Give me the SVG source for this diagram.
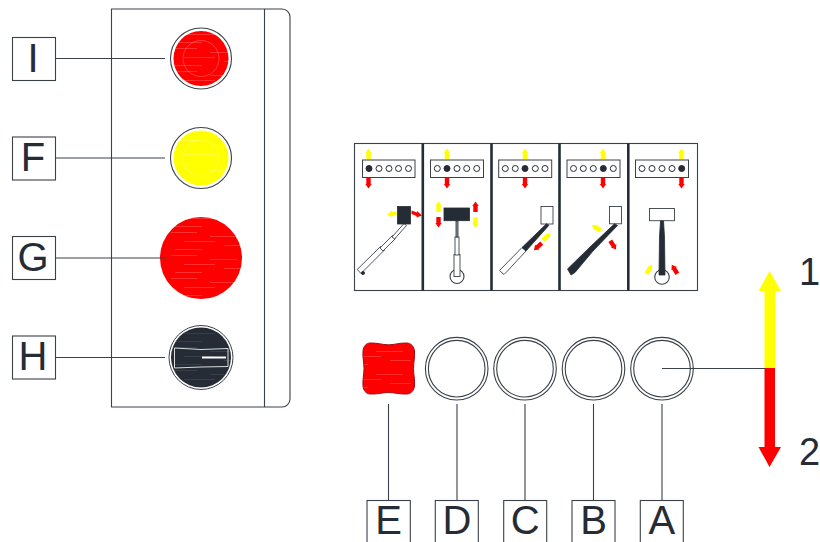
<svg xmlns="http://www.w3.org/2000/svg" width="820" height="542" viewBox="0 0 820 542">
<style>
.ln{fill:none;stroke:#3a4149;stroke-width:1.1}
.box{fill:#fff;stroke:#3a4149;stroke-width:1.1}
.lbl{font-family:"Liberation Sans",Arial,sans-serif;font-size:40px;fill:#252c35;text-anchor:middle}
.num{font-family:"Liberation Sans",Arial,sans-serif;font-size:38px;fill:#252c35}
.ring{fill:#fff;stroke:#3a4149;stroke-width:1.1}
.div{stroke:#252c35;stroke-width:2.6;fill:none}
.sel{fill:#fff;stroke:#3a4149;stroke-width:1}
.dot{fill:#fff;stroke:#252c35;stroke-width:1}
.on{fill:#252c35;stroke:#252c35;stroke-width:1}
.blk{fill:#252c35;stroke:#252c35;stroke-width:.8}
.wht{fill:#fff;stroke:#3a4149;stroke-width:.9}
.yt{fill:#ffff00}
.rt{fill:#ff0000}
</style>
<defs>
<pattern id="hr" width="83" height="23" patternUnits="userSpaceOnUse">
<rect width="83" height="23" fill="#ff0000"/>
<path d="M5 2.5H31M44 6.5H71M18 11.5H49M58 15.5H79M9 19.5H36" stroke="#ffa0a0" stroke-width=".3"/>
</pattern>
<pattern id="hy" width="83" height="23" patternUnits="userSpaceOnUse">
<rect width="83" height="23" fill="#ffff00"/>
<path d="M5 2.5H31M44 9.5H71M18 16.5H49" stroke="#ffffc0" stroke-width=".3"/>
</pattern>
<pattern id="hk" width="83" height="23" patternUnits="userSpaceOnUse">
<rect width="83" height="23" fill="#252c35"/>
<path d="M5 2.5H31M44 6.5H71M18 11.5H49M58 15.5H79M9 19.5H36" stroke="#5a6068" stroke-width=".35"/>
</pattern>
<path id="up" class="yt" d="M0 -5.5L3.2 -1H2.2V5H-2.2V-1H-3.2Z"/>
<path id="dn" class="rt" d="M0 5.5L3.2 1H2.2V-5H-2.2V1H-3.2Z"/>
<path id="upr" class="rt" d="M0 -5.5L3.2 -1H2.2V5H-2.2V-1H-3.2Z"/>
<path id="dny" class="yt" d="M0 5.5L3.2 1H2.2V-5H-2.2V1H-3.2Z"/>
</defs>

<g id="panel">
<path class="ln" d="M111.5 9H282a8 8 0 0 1 8 8V399a8 8 0 0 1-8 8H111.5Z"/>
<path class="ln" d="M264.5 9V407"/>
</g>

<g id="node-I">
<rect class="box" x="12.5" y="37.5" width="43" height="43"/>
<text class="lbl" x="33" y="71.5">I</text>
<circle class="ring" cx="201" cy="58.5" r="30.5"/>
<circle cx="201" cy="58.5" r="27.5" fill="url(#hr)"/>
<circle cx="201" cy="58.5" r="18" fill="none" stroke="#fff" stroke-width=".4" stroke-opacity=".6"/>
</g>
<g id="node-F">
<rect class="box" x="12.5" y="137" width="43" height="43"/>
<text class="lbl" x="33" y="171">F</text>
<circle class="ring" cx="201" cy="158" r="30.5"/>
<circle cx="201" cy="158" r="27.5" fill="url(#hy)"/>
<circle cx="201" cy="158" r="18" fill="none" stroke="#fff" stroke-width=".4" stroke-opacity=".6"/>
</g>
<g id="node-G">
<rect class="box" x="12.5" y="236.5" width="43" height="43"/>
<text class="lbl" x="33" y="270.5">G</text>
<circle cx="201" cy="258" r="41" fill="url(#hr)"/>
</g>
<g id="node-H">
<rect class="box" x="12.5" y="336" width="43" height="43"/>
<text class="lbl" x="33" y="370">H</text>
<circle cx="201" cy="357.5" r="32" fill="#fff" stroke="#3a4149" stroke-width="1"/>
<circle cx="201" cy="357.5" r="30" fill="url(#hk)"/>
<path d="M174.5 348L201 349.5L228 348.5V366.5L201 367L174.5 368Z" fill="none" stroke="#d8dadc" stroke-width="1"/>
<path d="M202 357.5H226" stroke="#fff" stroke-width="2"/>
</g>

<g id="selector-panel">
<rect x="354.5" y="143.5" width="343" height="147" fill="#fff" stroke="#3a4149" stroke-width="1.1"/>
<path class="div" d="M422.8 143.5V290.5M491.5 143.5V290.5M559.5 143.5V290.5M628.3 143.5V290.5"/>

<g id="pos-1">
<rect class="sel" x="362.5" y="160" width="52.5" height="17.5"/>
<circle class="on" cx="369" cy="168.5" r="3"/><circle class="dot" cx="379" cy="168.5" r="3"/><circle class="dot" cx="389" cy="168.5" r="3"/><circle class="dot" cx="398.5" cy="168.5" r="3"/><circle class="dot" cx="408.5" cy="168.5" r="3"/>
<use href="#up" x="368.5" y="154"/><use href="#dn" x="368.5" y="183"/>
<path class="wht" d="M357.2 269.5L380.5 246.5L384.5 250L361 273.5Z"/>
<path class="wht" d="M380 248L392.5 235.5L395.5 238.5L383 251Z"/>
<path class="wht" d="M392 237L404 223.5L406.5 225.5L394.5 239Z"/>
<circle class="blk" cx="363" cy="273" r="1.6"/>
<rect class="blk" x="397.5" y="206.5" width="13" height="17.5"/>
<path class="yt" d="M387 215L392 210.5V212L396.5 211.5V215.5L392 216V217Z"/>
<path class="rt" d="M422 215.5L416.5 217.5V216L411.5 214V210.5L417 212.5V211Z"/>
</g>

<g id="pos-2">
<rect class="sel" x="430.5" y="160" width="53" height="17.5"/>
<circle class="dot" cx="437.3" cy="168.5" r="3"/><circle class="on" cx="447" cy="168.5" r="3"/><circle class="dot" cx="457" cy="168.5" r="3"/><circle class="dot" cx="466.7" cy="168.5" r="3"/><circle class="dot" cx="476.7" cy="168.5" r="3"/>
<use href="#up" x="447" y="154"/><use href="#dn" x="447" y="183"/>
<circle class="ring" cx="457" cy="276.5" r="7"/>
<rect class="wht" x="454" y="254.5" width="6" height="22"/>
<rect class="wht" x="455" y="237" width="4" height="18"/>
<rect class="wht" x="456" y="221" width="2" height="16" style="fill:#8a8f94"/>
<rect class="blk" x="444" y="208" width="25.5" height="12.7"/>
<use href="#up" x="438.5" y="207"/><use href="#dn" x="438.5" y="222"/>
<use href="#upr" x="475.5" y="207"/><use href="#dny" x="475.5" y="222.5"/>
</g>

<g id="pos-3">
<rect class="sel" x="498.7" y="160" width="53" height="17.5"/>
<circle class="dot" cx="505.3" cy="168.5" r="3"/><circle class="dot" cx="515.3" cy="168.5" r="3"/><circle class="on" cx="525" cy="168.5" r="3"/><circle class="dot" cx="535.3" cy="168.5" r="3"/><circle class="dot" cx="545" cy="168.5" r="3"/>
<use href="#up" x="525" y="154"/><use href="#dn" x="525" y="183"/>
<rect class="wht" x="541" y="206.5" width="12" height="17.5"/>
<path class="wht" d="M499.5 270.5L522 247.5L526 251L506.5 272L504 274.5Z"/>
<path class="blk" d="M522 247.5L546.5 223.8L549 225.2L526 251Z"/>
<use href="#up" transform="translate(546.5 237) rotate(48)"/>
<use href="#dn" transform="translate(538 246.5) rotate(48)"/>
</g>

<g id="pos-4">
<rect class="sel" x="567" y="160" width="53" height="17.5"/>
<circle class="dot" cx="573.5" cy="168.5" r="3"/><circle class="dot" cx="583.3" cy="168.5" r="3"/><circle class="dot" cx="593.3" cy="168.5" r="3"/><circle class="on" cx="603.3" cy="168.5" r="3"/><circle class="dot" cx="613.3" cy="168.5" r="3"/>
<use href="#up" x="603" y="154"/><use href="#dn" x="603" y="183"/>
<rect class="wht" x="609.5" y="206.5" width="12" height="17.3"/>
<path class="blk" d="M567.5 269L590 247L614.5 223.8L617.5 225.5L593 251L575 272.5L571 275Z"/>
<use href="#up" transform="translate(596.5 228) rotate(-60)"/>
<use href="#dn" transform="translate(613 245) rotate(-33)"/>
</g>

<g id="pos-5">
<rect class="sel" x="635.5" y="160" width="53" height="17.5"/>
<circle class="dot" cx="642" cy="168.5" r="3"/><circle class="dot" cx="652" cy="168.5" r="3"/><circle class="dot" cx="662" cy="168.5" r="3"/><circle class="dot" cx="672" cy="168.5" r="3"/><circle class="on" cx="681.7" cy="168.5" r="3"/>
<use href="#up" x="681.5" y="154"/><use href="#dn" x="681.5" y="183"/>
<rect class="wht" x="649.5" y="208.5" width="25" height="12.2"/>
<circle class="ring" cx="662" cy="277" r="7.3"/>
<path class="blk" d="M660.5 221H663.5L664.5 237L665 275H659L659.5 237Z"/>
<use href="#up" transform="translate(649 269.5) rotate(32)"/>
<use href="#upr" transform="translate(674.7 269.5) rotate(-32)"/>
</g>
</g>

<g id="node-E">
<path d="M370 343C378 342.8 382 344.8 388.5 344.8C395 344.8 399 342.8 407 343C411 343.2 414 346.5 414.5 351C415 358 413.5 362 413.5 368.5C413.5 375 415 379 414.5 386C414 390.5 411 393.8 407 394C399 394.4 395 392.5 388.5 392.5C382 392.5 378 394.4 370 394C366 393.8 363.4 390.5 363 386C362.5 379 364 375 364 368.5C364 362 362.5 358 363 351C363.4 346.5 366 343.2 370 343Z" fill="url(#hr)" stroke="#a01018" stroke-width="1"/>
<rect class="box" x="367" y="500.5" width="43.3" height="50"/>
<text class="lbl" x="388.7" y="534">E</text>
</g>
<g id="node-D">
<circle class="ring" cx="456.7" cy="368.7" r="31.3"/><circle class="ring" cx="456.7" cy="368.7" r="28.3"/>
<rect class="box" x="435.3" y="500.5" width="43" height="50"/>
<text class="lbl" x="457" y="534">D</text>
</g>
<g id="node-C">
<circle class="ring" cx="525" cy="368.7" r="31.3"/><circle class="ring" cx="525" cy="368.7" r="28.3"/>
<rect class="box" x="503.7" y="500.5" width="43" height="50"/>
<text class="lbl" x="525.2" y="534">C</text>
</g>
<g id="node-B">
<circle class="ring" cx="593.5" cy="368.7" r="31.3"/><circle class="ring" cx="593.5" cy="368.7" r="28.3"/>
<rect class="box" x="572" y="500.5" width="43" height="50"/>
<text class="lbl" x="593.5" y="534">B</text>
</g>
<g id="node-A">
<circle class="ring" cx="662" cy="368.7" r="31.3"/><circle class="ring" cx="662" cy="368.7" r="28.3"/>
<rect class="box" x="640.3" y="500.5" width="43" height="50"/>
<text class="lbl" x="661.8" y="534">A</text>
</g>

<g id="direction-arrow">
<path class="yt" d="M769.5 271L781 291H775V368H764.5V291H758.5Z"/>
<path class="rt" d="M769.5 467L781 447H775V368H764.5V447H758.5Z"/>
<text class="num" x="799" y="284.5">1</text>
<text class="num" x="799" y="465">2</text>
</g>

<g id="connectors">
<path class="ln" d="M55.5 58.5H165M55.5 158H165M55.5 258H165M55.5 357.5H165"/>
<path class="ln" d="M388.5 404V500.5M457 404V500.5M525 404V500.5M593.5 404V500.5M662 404V500.5"/>
<path class="ln" d="M662 368.5H765"/>
</g>
</svg>
